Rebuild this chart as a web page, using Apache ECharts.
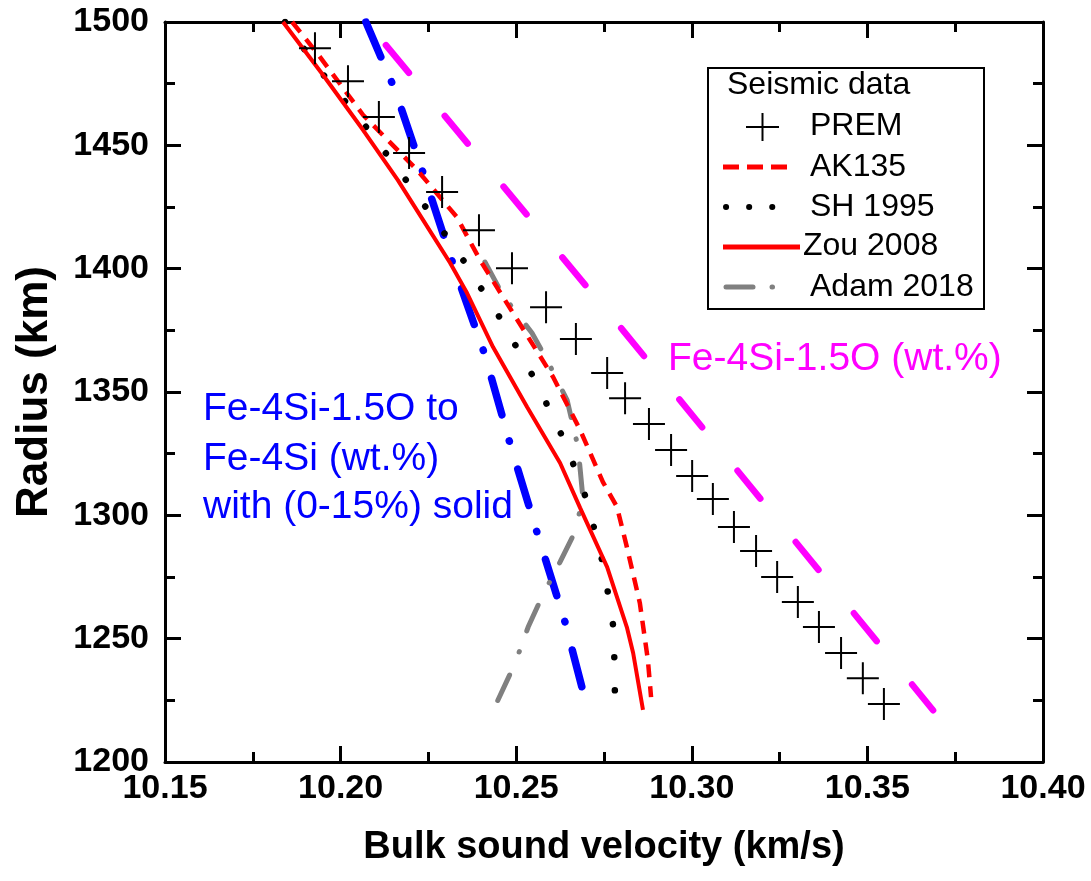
<!DOCTYPE html>
<html>
<head>
<meta charset="utf-8">
<script src="https://cdn.jsdelivr.net/npm/echarts@6/dist/echarts.min.js"></script>
<style>
html,body{margin:0;padding:0;background:#fff;}
#chart{width:1091px;height:881px;}
</style>
</head>
<body>
<div id="chart"></div>
<script>
// ---- Data ----
const xTicks = [10.15, 10.20, 10.25, 10.30, 10.35, 10.40];
const yTicks = [1200, 1250, 1300, 1350, 1400, 1450, 1500];

const premVel = [10.1927,10.2021,10.2109,10.2195,10.2289,10.2394,10.2488,10.2585,10.2670,10.2759,10.2810,10.2878,10.2941,10.3001,10.3060,10.3120,10.3183,10.3243,10.3302,10.3362,10.3425,10.3487,10.3547];
const premRad = [1489.4,1476.0,1461.5,1446.9,1431.1,1415.6,1400.2,1384.4,1371.5,1357.7,1347.5,1337.0,1326.5,1315.9,1306.6,1295.3,1285.5,1275.0,1264.9,1254.7,1244.2,1234.0,1223.5];

const ak135Vel = [10.1862,10.1933,10.2064,10.2218,10.2331,10.2397,10.2491,10.2605,10.2682,10.2747,10.2787,10.2815,10.2852,10.2875,10.2884];
const ak135Rad = [1500,1487.4,1462.3,1440.0,1420.9,1403.5,1382.0,1356.1,1334.6,1313.5,1303.4,1287.2,1264.5,1241.3,1226.3];

const sh1995Vel = [10.1842,10.1933,10.2075,10.2212,10.2340,10.2454,10.2554,10.2639,10.2704,10.2750,10.2778,10.2781];
const sh1995Rad = [1500,1481.7,1457.0,1431.0,1405.5,1380.0,1354.8,1329.7,1305.0,1278.6,1253.5,1228.0];

const zouVel = [10.1836,10.1950,10.2064,10.2163,10.2235,10.2312,10.2360,10.2434,10.2531,10.2625,10.2682,10.2759,10.2815,10.2833,10.2861];
const zouRad = [1500,1478.5,1456.2,1435.9,1419.7,1402.3,1390.1,1368.2,1343.9,1321.2,1303.0,1279.0,1254.7,1244.2,1221.1];

const adamVel = [10.2411,10.2462,10.2545,10.2591,10.2645,10.2676,10.2690,10.2667,10.2625,10.2573,10.2534,10.2497,10.2431];
const adamRad = [1402.7,1389.3,1373.9,1362.1,1346.7,1327.7,1307.0,1293.2,1281.1,1266.9,1254.7,1240.1,1219.9];

const solidMixVel = [10.2072,10.2155,10.2240,10.2323,10.2411,10.2482,10.2559,10.2639,10.2704];
const solidMixRad = [1500,1472.4,1436.7,1400.6,1365.0,1329.3,1293.2,1256.7,1221.1];

const liquidVel = [10.2129,10.2804,10.3687];
const liquidRad = [1490.6,1375.0,1221.0];

const legendTitle = 'Seismic data';
const legendNames = ['PREM','AK135','SH 1995','Zou 2008','Adam 2018'];
const blueLabel = ['Fe-4Si-1.5O to','Fe-4Si (wt.%)','with (0-15%) solid'];
const magentaLabel = 'Fe-4Si-1.5O (wt.%)';

function zip(a, b){ return a.map((v,i)=>[v, b[i]]); }

const FONT = '"Liberation Sans", Arial, sans-serif';
const chart = echarts.init(document.getElementById('chart'), null, {renderer:'canvas'});

const axisCommon = {
  axisLine:{show:true, onZero:false, lineStyle:{color:'#000', width:3}},
  axisTick:{show:true, inside:true, length:16, lineStyle:{color:'#000', width:3}},
  minorTick:{show:true, splitNumber:2, length:10, lineStyle:{color:'#000', width:3}},
  splitLine:{show:false},
  minorSplitLine:{show:false}
};

const option = {
  animation:false,
  backgroundColor:'#fff',
  grid:{left:165, right:48, top:22, bottom:119, containLabel:false},
  xAxis:[
    Object.assign({
      type:'value', position:'bottom', min:xTicks[0], max:xTicks[xTicks.length-1], interval:0.05,
      name:'Bulk sound velocity (km/s)', nameLocation:'middle', nameGap:67,
      nameTextStyle:{fontFamily:FONT, fontWeight:'bold', fontSize:38, color:'#000'},
      axisLabel:{show:true, margin:10, fontFamily:FONT, fontWeight:'bold', fontSize:34, color:'#000',
        formatter:v=>v.toFixed(2)}
    }, axisCommon),
    Object.assign({
      type:'value', position:'top', min:xTicks[0], max:xTicks[xTicks.length-1], interval:0.05,
      axisLabel:{show:false}
    }, axisCommon)
  ],
  yAxis:[
    Object.assign({
      type:'value', position:'left', min:yTicks[0], max:yTicks[yTicks.length-1], interval:50,
      name:'Radius (km)', nameLocation:'middle', nameGap:108, nameRotate:90,
      nameTextStyle:{fontFamily:FONT, fontWeight:'bold', fontSize:44, color:'#000'},
      axisLabel:{show:true, margin:16, fontFamily:FONT, fontWeight:'bold', fontSize:34, color:'#000',
        formatter:v=>String(v)}
    }, axisCommon),
    Object.assign({
      type:'value', position:'right', min:yTicks[0], max:yTicks[yTicks.length-1], interval:50,
      axisLabel:{show:false}
    }, axisCommon)
  ],
  series:[
    {
      name:'Fe-4Si-1.5O', type:'line', data:zip(liquidVel, liquidRad), showSymbol:false, symbol:'none',
      lineStyle:{color:'#ff00ff', width:6.5, type:[36,56], cap:'round'}, z:2
    },
    {
      name:'solid mix', type:'line', data:zip(solidMixVel, solidMixRad), showSymbol:false, symbol:'none', smooth:false,
      lineStyle:{color:'#0000ff', width:7.5, type:[38,27,0.5,29], cap:'round'}, z:3
    },
    {
      name:'Adam 2018', type:'line', data:zip(adamVel, adamRad), showSymbol:false, symbol:'none',
      lineStyle:{color:'#808080', width:5, type:[28,22,0.5,25], cap:'round'}, z:4
    },
    {
      name:'SH 1995', type:'line', data:zip(sh1995Vel, sh1995Rad), showSymbol:false, symbol:'none',
      lineStyle:{color:'#000', width:6.5, type:[0.1,33], cap:'round'}, z:5
    },
    {
      name:'AK135', type:'line', data:zip(ak135Vel, ak135Rad), showSymbol:false, symbol:'none',
      lineStyle:{color:'#ff0000', width:4.5, type:[13,9]}, z:6
    },
    {
      name:'Zou 2008', type:'line', data:zip(zouVel, zouRad), showSymbol:false, symbol:'none',
      lineStyle:{color:'#ff0000', width:4}, z:7
    },
    {
      name:'PREM', type:'scatter', data:zip(premVel, premRad),
      symbol:'path://M0,16H32M16,0V32', symbolSize:[32,32],
      itemStyle:{color:'rgba(0,0,0,0)', borderColor:'#000', borderWidth:2, opacity:1}, z:8
    }
  ],
  graphic:[
    {type:'rect', shape:{x:708, y:68, width:276, height:241}, style:{fill:'#fff', stroke:'#000', lineWidth:2}, z:20},
    {type:'text', x:727, y:85, z:21, style:{text:legendTitle, fill:'#000', font:'32px '+FONT, verticalAlign:'middle'}},
    // PREM cross
    {type:'line', shape:{x1:746, y1:127, x2:779, y2:127}, style:{stroke:'#000', lineWidth:2}, z:21},
    {type:'line', shape:{x1:762.5, y1:113, x2:762.5, y2:141}, style:{stroke:'#000', lineWidth:2}, z:21},
    {type:'text', x:810, y:126, z:21, style:{text:legendNames[0], fill:'#000', font:'32px '+FONT, verticalAlign:'middle'}},
    // AK135
    {type:'line', shape:{x1:723, y1:167, x2:787, y2:167}, style:{stroke:'#ff0000', lineWidth:5, lineDash:[16,8]}, z:21},
    {type:'text', x:810, y:167, z:21, style:{text:legendNames[1], fill:'#000', font:'32px '+FONT, verticalAlign:'middle'}},
    // SH 1995
    {type:'line', shape:{x1:726, y1:207, x2:795, y2:207}, style:{stroke:'#000', lineWidth:6, lineDash:[0.1,23], lineCap:'round'}, z:21},
    {type:'text', x:810, y:207, z:21, style:{text:legendNames[2], fill:'#000', font:'32px '+FONT, verticalAlign:'middle'}},
    // Zou 2008
    {type:'line', shape:{x1:723, y1:247, x2:800, y2:247}, style:{stroke:'#ff0000', lineWidth:5}, z:21},
    {type:'text', x:803, y:246, z:21, style:{text:legendNames[3], fill:'#000', font:'32px '+FONT, verticalAlign:'middle'}},
    // Adam 2018
    {type:'line', shape:{x1:726, y1:287, x2:753, y2:287}, style:{stroke:'#808080', lineWidth:5, lineCap:'round'}, z:21},
    {type:'line', shape:{x1:772, y1:287, x2:772.5, y2:287}, style:{stroke:'#808080', lineWidth:5, lineCap:'round'}, z:21},
    {type:'text', x:810, y:287, z:21, style:{text:legendNames[4], fill:'#000', font:'32px '+FONT, verticalAlign:'middle'}},
    // annotations
    {type:'text', x:203, y:409, z:21, style:{text:blueLabel[0], fill:'#0000ff', font:'39px '+FONT, verticalAlign:'middle'}},
    {type:'text', x:203, y:459, z:21, style:{text:blueLabel[1], fill:'#0000ff', font:'39px '+FONT, verticalAlign:'middle'}},
    {type:'text', x:203, y:507, z:21, style:{text:blueLabel[2], fill:'#0000ff', font:'39px '+FONT, verticalAlign:'middle'}},
    {type:'text', x:668, y:359, z:21, style:{text:magentaLabel, fill:'#ff00ff', font:'39px '+FONT, verticalAlign:'middle'}}
  ]
};
chart.setOption(option);
</script>
</body>
</html>
